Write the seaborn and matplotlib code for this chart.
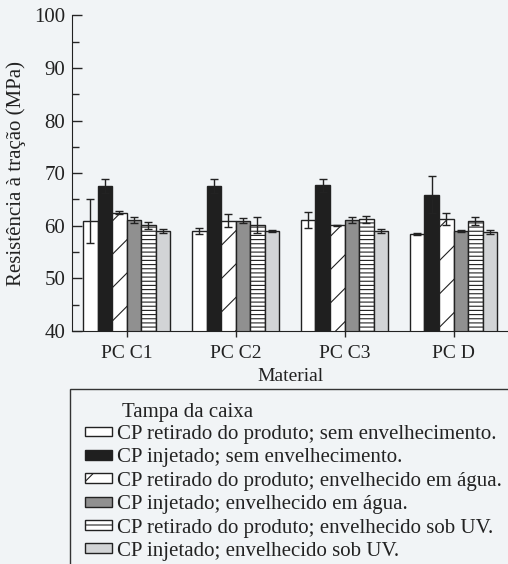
import numpy as np
import pandas as pd
import matplotlib
matplotlib.use('Agg')
import matplotlib.pyplot as plt
import seaborn as sns
from matplotlib.patches import Patch, Rectangle

materials = ['PC C1', 'PC C2', 'PC C3', 'PC D']
conditions = [
    'CP retirado do produto; sem envelhecimento.',
    'CP injetado; sem envelhecimento.',
    'CP retirado do produto; envelhecido em água.',
    'CP injetado; envelhecido em água.',
    'CP retirado do produto; envelhecido sob UV.',
    'CP injetado; envelhecido sob UV.',
]
# mean tensile strength (MPa) per condition, one value per material
ret_sem = [60.9, 59.0, 61.1, 58.5]
inj_sem = [67.6, 67.6, 67.7, 65.9]
ret_agua = [62.5, 61.0, 60.1, 61.3]
inj_agua = [61.1, 61.0, 61.1, 59.0]
ret_uv = [60.1, 60.2, 61.2, 60.9]
inj_uv = [59.0, 59.0, 59.0, 58.8]
# error bars
err_ret_sem = [4.2, 0.6, 1.6, 0.2]
err_inj_sem = [1.3, 1.3, 1.2, 3.5]
err_ret_agua = [0.3, 1.2, 0.1, 1.1]
err_inj_agua = [0.5, 0.4, 0.6, 0.2]
err_ret_uv = [0.7, 1.5, 0.7, 0.8]
err_inj_uv = [0.3, 0.2, 0.3, 0.4]

means = [ret_sem, inj_sem, ret_agua, inj_agua, ret_uv, inj_uv]
errs = [err_ret_sem, err_inj_sem, err_ret_agua, err_inj_agua, err_ret_uv, err_inj_uv]

rows = []
for cond, vals in zip(conditions, means):
    for mat, v in zip(materials, vals):
        rows.append({'Material': mat, 'cond': cond, 'valor': v})
df = pd.DataFrame(rows)

fills = ['#ffffff', '#1f1f1f', '#ffffff', '#909090', '#ffffff', '#d2d4d6']
hatches = ['', '', '/', '', '----', '']

sns.set_style('ticks')
plt.rcParams['font.family'] = ['Liberation Serif', 'DejaVu Serif']
plt.rcParams['hatch.linewidth'] = 0.8
bg = '#f1f4f6'
ink = '#222222'

fig = plt.figure(figsize=(5.08, 5.64), dpi=100, facecolor=bg)
ax = fig.add_axes([0.142, 0.413, 0.858, 0.56], facecolor=bg)

sns.barplot(data=df, x='Material', y='valor', hue='cond', hue_order=conditions,
            palette=fills, edgecolor=ink, linewidth=1.0, errorbar=None,
            saturation=1, width=0.8, legend=False, ax=ax)

for cont, h, e in zip(ax.containers, hatches, errs):
    xs, ys = [], []
    for bar in cont:
        bar.set_hatch(h)
        xs.append(bar.get_x() + bar.get_width() / 2)
        ys.append(bar.get_height())
    ax.errorbar(xs, ys, yerr=e, fmt='none', ecolor=ink, elinewidth=1.0,
                capsize=3, capthick=1.0)

ax.set_ylim(40, 100)
ax.set_xlim(-0.5, 3.5)
ax.set_yticks(np.arange(40, 101, 10))
ax.set_yticks(np.arange(45, 100, 10), minor=True)
ax.tick_params(axis='y', direction='in', length=7, width=1, labelsize=15, pad=5,
               labelcolor=ink)
ax.tick_params(axis='y', which='minor', direction='in', length=5, width=1)
ax.tick_params(axis='x', direction='inout', length=8, width=1, labelsize=14, pad=6,
               labelcolor=ink)
ax.spines['top'].set_visible(False)
ax.spines['right'].set_visible(False)
ax.spines['left'].set_color(ink)
ax.spines['bottom'].set_color(ink)
ax.set_ylabel('Resistência à tração (MPa)', fontsize=15, labelpad=6, color=ink)
ax.set_xlabel('Material', fontsize=14, labelpad=4, color=ink)

# legend frame (extends past the figure edges like in the scan)
fig.patches.append(Rectangle((70 / 508, -0.1), 1.2, 1 - 389 / 564 + 0.1,
                             transform=fig.transFigure, fill=False,
                             edgecolor='#333333', linewidth=1.0))
fig.text(122 / 508, 1 - 413 / 564, 'Tampa da caixa', fontsize=15,
         va='center', ha='left', color=ink)
handles = [Patch(facecolor=f, edgecolor=ink, hatch=h if h != '----' else '---',
                 label=c) for f, h, c in zip(fills, hatches, conditions)]
leg = fig.legend(handles=handles, loc='upper left',
                 bbox_to_anchor=(85 / 508, 1 - 425 / 564), frameon=False,
                 fontsize=15, handlelength=1.3, handleheight=0.35, handletextpad=0.25,
                 labelspacing=0.21, borderpad=0, borderaxespad=0)
for t in leg.get_texts():
    t.set_color(ink)

fig.savefig('out.png', dpi=100, facecolor=bg)
